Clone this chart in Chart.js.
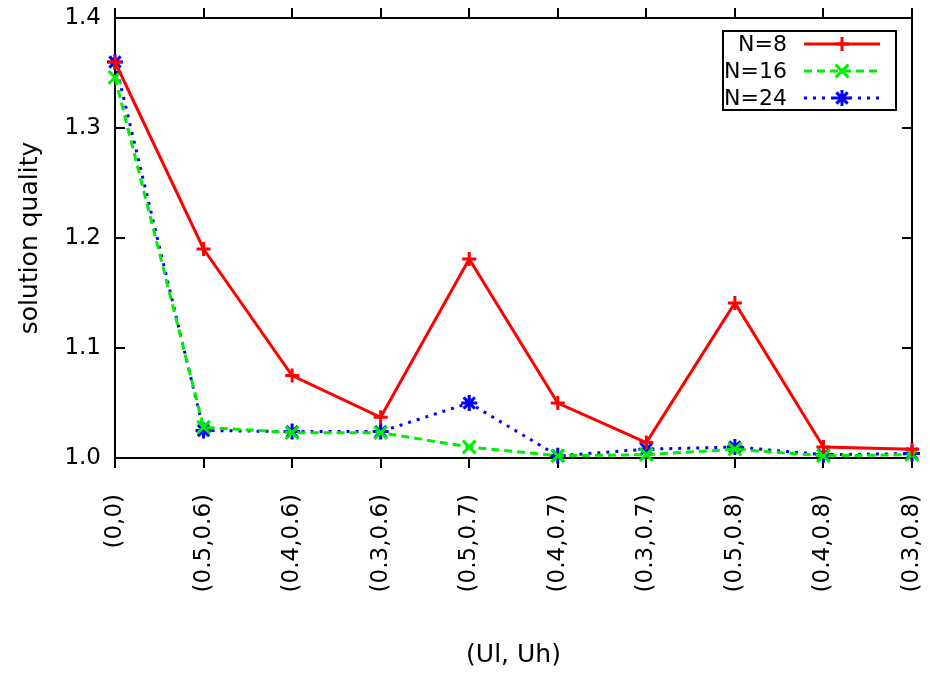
<!DOCTYPE html>
<html>
<head>
<meta charset="utf-8">
<script src="https://cdn.jsdelivr.net/npm/chart.js@4/dist/chart.umd.min.js"></script>
<style>
  html, body { margin: 0; padding: 0; background: #ffffff; }
  #wrap { width: 930px; height: 675px; }
</style>
</head>
<body>
<div id="wrap"><canvas id="c" width="930" height="675"></canvas></div>
<script>
// (Ul, Uh) parameter pairs along the x axis
const categories = ['(0,0)', '(0.5,0.6)', '(0.4,0.6)', '(0.3,0.6)', '(0.5,0.7)',
                    '(0.4,0.7)', '(0.3,0.7)', '(0.5,0.8)', '(0.4,0.8)', '(0.3,0.8)'];

// solution quality per problem size
const qualityN8  = [1.360, 1.190, 1.075, 1.037, 1.181, 1.050, 1.014, 1.141, 1.010, 1.008];
const qualityN16 = [1.346, 1.028, 1.023, 1.023, 1.010, 1.002, 1.003, 1.008, 1.002, 1.003];
const qualityN24 = [1.360, 1.025, 1.024, 1.024, 1.050, 1.002, 1.008, 1.010, 1.003, 1.004];

const seriesNames = ['N=8', 'N=16', 'N=24'];
const yTickValues = [1.0, 1.1, 1.2, 1.3, 1.4];

const FONT = '"DejaVu Sans", sans-serif';
const FONT_SIZE = 23;
const TITLE_SIZE = 25;
Chart.defaults.font.family = FONT;
Chart.defaults.color = '#000000';

// fixed plot box: the scales keep exactly the sizes given here
function fixSize(prop, size) {
  return function (s) {
    s[prop] = size;
    s.paddingLeft = 0; s.paddingRight = 0; s.paddingTop = 0; s.paddingBottom = 0;
  };
}

// small marker painter used by the key
function drawMarker(ctx, style, x, y, r) {
  ctx.beginPath();
  if (style === 'cross' || style === 'star') {
    ctx.moveTo(x - r, y); ctx.lineTo(x + r, y);
    ctx.moveTo(x, y - r); ctx.lineTo(x, y + r);
  }
  if (style === 'crossRot' || style === 'star') {
    const d = r * Math.SQRT1_2;
    ctx.moveTo(x - d, y - d); ctx.lineTo(x + d, y + d);
    ctx.moveTo(x - d, y + d); ctx.lineTo(x + d, y - d);
  }
  ctx.stroke();
}

// frame, inward y ticks on both sides, and the key box
const framePlugin = {
  id: 'frame',
  beforeDatasetsDraw(chart) {
    const { ctx, chartArea: a, scales } = chart;
    ctx.save();
    ctx.strokeStyle = '#000';
    ctx.lineWidth = 2;
    ctx.strokeRect(a.left, a.top, a.right - a.left, a.bottom - a.top);
    ctx.beginPath();
    scales.y.ticks.forEach(t => {
      const py = Math.round(scales.y.getPixelForValue(t.value));
      ctx.moveTo(a.left, py); ctx.lineTo(a.left + 10, py);
      ctx.moveTo(a.right, py); ctx.lineTo(a.right - 10, py);
    });
    ctx.stroke();
    ctx.restore();
  },
  afterDraw(chart) {
    const { ctx } = chart;
    ctx.save();
    ctx.strokeStyle = '#000';
    ctx.lineWidth = 2;
    ctx.strokeRect(723, 31, 173, 79);
    ctx.font = '22px ' + FONT;
    ctx.textAlign = 'right';
    ctx.textBaseline = 'middle';
    chart.data.datasets.forEach((ds, i) => {
      const y = 44 + i * 27;
      ctx.fillStyle = '#000';
      ctx.fillText(ds.label, 787, y + 1);
      ctx.strokeStyle = ds.borderColor;
      ctx.lineWidth = 3;
      ctx.setLineDash(ds.borderDash || []);
      ctx.beginPath();
      ctx.moveTo(804, y); ctx.lineTo(880, y);
      ctx.stroke();
      ctx.setLineDash([]);
      drawMarker(ctx, ds.pointStyle, 842, y, ds.pointRadius);
    });
    ctx.restore();
  }
};

function series(label, data, color, dash, marker, radius) {
  return {
    label, data,
    borderColor: color,
    backgroundColor: color,
    borderWidth: 3,
    borderDash: dash,
    pointStyle: marker,
    pointRadius: radius,
    pointBorderWidth: 3,
    pointBorderColor: color,
    tension: 0,
    clip: false
  };
}

new Chart(document.getElementById('c'), {
  type: 'line',
  data: {
    labels: categories,
    datasets: [
      series(seriesNames[0], qualityN8,  '#ff0000', [],     'cross',    7),
      series(seriesNames[1], qualityN16, '#00ee00', [8, 5], 'crossRot', 9),
      series(seriesNames[2], qualityN24, '#0000ff', [3, 6], 'star',     8)
    ]
  },
  options: {
    responsive: false,
    animation: false,
    devicePixelRatio: 1,
    layout: { padding: { left: 0, right: 18, top: 0, bottom: 0 } },
    plugins: { legend: { display: false }, tooltip: { enabled: false } },
    scales: {
      x: {
        type: 'category',
        position: 'bottom',
        offset: false,
        grid: { display: true, drawOnChartArea: false, drawTicks: true, tickLength: 10,
                color: '#000', lineWidth: 2 },
        border: { display: false },
        ticks: { minRotation: 90, maxRotation: 90, autoSkip: false, padding: 26,
                 font: { size: FONT_SIZE }, color: '#000' },
        title: { display: true, text: '(Ul, Uh)', font: { size: TITLE_SIZE }, color: '#000',
                 padding: { top: 0, bottom: 5 } },
        afterFit: fixSize('height', 217)
      },
      x2: {
        type: 'category',
        position: 'top',
        offset: false,
        labels: categories,
        grid: { display: true, drawOnChartArea: false, drawTicks: true, tickLength: 10,
                color: '#000', lineWidth: 2 },
        border: { display: false },
        ticks: { display: false },
        afterFit: fixSize('height', 18)
      },
      y: {
        min: 1.0,
        max: 1.4,
        afterBuildTicks(s) { s.ticks = yTickValues.map(v => ({ value: v })); },
        grid: { display: false, drawTicks: false },
        border: { display: false },
        ticks: { padding: 14, font: { size: FONT_SIZE }, color: '#000',
                 callback: v => Number(v).toFixed(1) },
        title: { display: true, text: 'solution quality', font: { size: TITLE_SIZE }, color: '#000',
                 padding: { top: 15, bottom: 0 } },
        afterFit: fixSize('width', 115)
      }
    }
  },
  plugins: [framePlugin]
});
</script>
</body>
</html>
